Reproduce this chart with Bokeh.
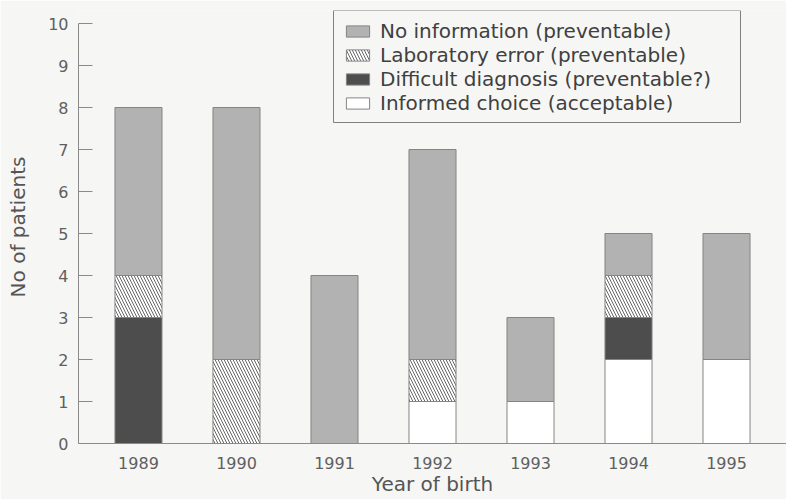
from bokeh.plotting import figure
from bokeh.models import Range1d, FixedTicker, Legend, LegendItem, BoxAnnotation
from bokeh.embed import file_html
from bokeh.resources import INLINE

years = [1989, 1990, 1991, 1992, 1993, 1994, 1995]
informed = [0, 0, 0, 1, 1, 2, 2]
difficult = [3, 0, 0, 0, 0, 1, 0]
lab_error = [1, 2, 0, 1, 0, 1, 0]
no_info = [4, 6, 4, 5, 2, 1, 3]
labels = ["No information (preventable)", "Laboratory error (preventable)",
          "Difficult diagnosis (preventable?)", "Informed choice (acceptable)"]

BG = "#f6f6f4"
FONT = "DejaVu Sans"

p = figure(width=786, height=499, output_backend="svg", toolbar_location=None,
           x_range=Range1d(1988.388, 1995.612), y_range=Range1d(0, 10.31),
           min_border_left=78, min_border_right=0, min_border_top=10, min_border_bottom=56,
           background_fill_color=BG, border_fill_color=BG, outline_line_color=None)

data = dict(year=years, informed=informed, difficult=difficult, lab_error=lab_error, no_info=no_info)
styles = [
    ("informed", dict(fill_color="white")),
    ("difficult", dict(fill_color="#4d4d4d")),
    ("lab_error", dict(fill_color="white", hatch_pattern="left_diagonal_line", hatch_color="#666666",
                       hatch_scale=6, hatch_weight=1)),
    ("no_info", dict(fill_color="#b2b2b2")),
]
renderers = {}
bottom = [0] * len(years)
for key, st in styles:
    top = [b + v for b, v in zip(bottom, data[key])]
    r = p.vbar(x=years, bottom=bottom, top=top, width=0.48, line_color="#858585", line_width=1, **st)
    renderers[key] = r
    bottom = top

# legend frame (canvas pixel units)
frame_box = BoxAnnotation(left=333, right=740, top=10, bottom=122,
                          left_units="canvas", right_units="canvas",
                          top_units="canvas", bottom_units="canvas",
                          fill_color=BG, fill_alpha=1, line_color="#808080", line_width=1,
                          line_alpha=1)
p.add_layout(frame_box)

items = [LegendItem(label=labels[0], renderers=[renderers["no_info"]]),
         LegendItem(label=labels[1], renderers=[renderers["lab_error"]]),
         LegendItem(label=labels[2], renderers=[renderers["difficult"]]),
         LegendItem(label=labels[3], renderers=[renderers["informed"]])]
legend = Legend(items=items, location=(265, 328), glyph_width=29, glyph_height=14,
                label_standoff=8, spacing=0, label_height=23, padding=9, margin=0,
                label_text_font=FONT, label_text_font_size="20px", label_text_color="#404040",
                border_line_color=None, background_fill_alpha=0)
p.add_layout(legend, "center")

p.grid.visible = False

p.yaxis.bounds = (0, 10)
p.yaxis.ticker = FixedTicker(ticks=list(range(0, 11)))
p.yaxis.major_tick_in = 14
p.yaxis.major_tick_out = 0
p.yaxis.major_tick_line_color = "#8a8a8a"
p.yaxis.axis_label = "No of patients"
p.yaxis.axis_label_standoff = 15
p.yaxis.major_label_standoff = 10

p.xaxis.ticker = FixedTicker(ticks=years)
p.xaxis.major_tick_line_color = None
p.xaxis.axis_label = "Year of birth"
p.xaxis.axis_label_standoff = 0
p.xaxis.major_label_standoff = 7

for ax in (p.xaxis, p.yaxis):
    ax.minor_tick_line_color = None
    ax.axis_line_color = "#8a8a8a"
    ax.major_label_text_font = FONT
    ax.major_label_text_font_size = "16px"
    ax.major_label_text_color = "#5f5f5f"
    ax.axis_label_text_font = FONT
    ax.axis_label_text_font_size = "20px"
    ax.axis_label_text_font_style = "normal"
    ax.axis_label_text_color = "#555555"

open("out.html", "w").write(file_html(p, INLINE))
